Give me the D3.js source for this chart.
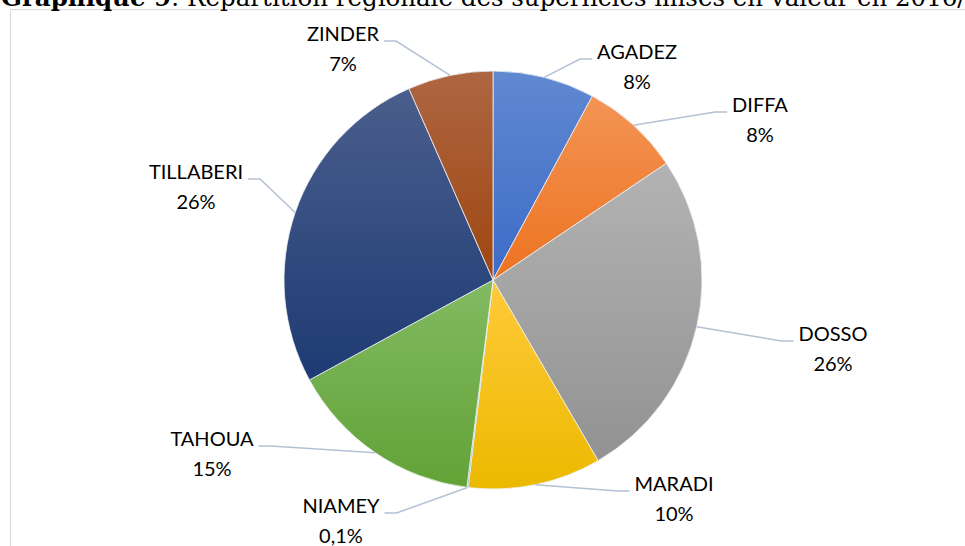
<!DOCTYPE html>
<html>
<head>
<meta charset="utf-8">
<script src="https://cdn.jsdelivr.net/npm/d3@7/dist/d3.min.js"></script>
<style>
  html, body { margin: 0; padding: 0; background: #fff; }
  svg { display: block; }
</style>
</head>
<body>
<svg id="chart" width="965" height="546"></svg>
<script>
// ---- data ----
const regions = ["AGADEZ", "DIFFA", "DOSSO", "MARADI", "NIAMEY", "TAHOUA", "TILLABERI", "ZINDER"];
const shares  = [7.9, 7.7, 26.1, 10.3, 0.1, 15.1, 26.4, 6.6];
const colorsTop    = ["#6089d1", "#f39455", "#b3b3b3", "#ffca3a", "#6aa5da", "#82ba62", "#4b5e8d", "#ae6642"];
const colorsBottom = ["#3d6bc7", "#ed7320", "#929292", "#ecb900", "#4f8fcc", "#62a236", "#1d3b73", "#9f4610"];
const titleBold = "Graphique 9";
const titleRest = ": Répartition régionale des superficies mises en valeur en 2016/";

// ---- layout (label anchors: centre x, first baseline y) ----
const labelLayout = [
  { x: 637, y: 59,  side: "right" },
  { x: 760, y: 112, side: "right" },
  { x: 833, y: 341, side: "right" },
  { x: 674, y: 491, side: "right" },
  { x: 341, y: 513, side: "left" },
  { x: 212, y: 446, side: "left" },
  { x: 196, y: 179, side: "left" },
  { x: 343, y: 41,  side: "left" }
];

const svg = d3.select("#chart");
const cx = 493, cy = 280, R = 209;

// frame
svg.append("rect")
  .attr("x", 10.5).attr("y", 9.5)
  .attr("width", 1000).attr("height", 600)
  .attr("fill", "none").attr("stroke", "#d9dce3").attr("stroke-width", 1.2);

// title (cut off at top, as in the source)
const title = svg.append("text")
  .attr("x", 1).attr("y", 6)
  .attr("font-family", "'DejaVu Serif', 'Liberation Serif', serif")
  .attr("font-size", 24.5)
  .attr("fill", "#000");
title.append("tspan").attr("font-weight", "bold").text(titleBold);
title.append("tspan").text(titleRest);

const total = d3.sum(shares);
const data = regions.map((r, i) => ({ region: r, value: shares[i], i }));

const pie = d3.pie().sort(null).value(d => d.value);
const arcs = pie(data);
const arc = d3.arc().innerRadius(0).outerRadius(R);

const defs = svg.append("defs");
arcs.forEach((a, i) => {
  const g = defs.append("linearGradient")
    .attr("id", "grad" + i)
    .attr("x1", 0).attr("y1", 0).attr("x2", 0).attr("y2", 1);
  g.append("stop").attr("offset", "0%").attr("stop-color", colorsTop[i]);
  g.append("stop").attr("offset", "100%").attr("stop-color", colorsBottom[i]);
});

const gPie = svg.append("g").attr("transform", `translate(${cx},${cy})`);
gPie.selectAll("path.slice")
  .data(arcs)
  .join("path")
  .attr("class", "slice")
  .attr("d", arc)
  .attr("fill", (d, i) => `url(#grad${i})`)
  .attr("stroke", "#eef1f6")
  .attr("stroke-width", 0.8);

const fmtPct = v => {
  const p = v / total * 100;
  return p < 1 ? d3.format(".1f")(p).replace(".", ",") + "%" : Math.round(p) + "%";
};

// labels
const gLab = svg.append("g");
arcs.forEach((a, i) => {
  const L = labelLayout[i];
  const t = gLab.append("text")
    .attr("text-anchor", "middle")
    .attr("font-family", "Lato, 'Open Sans', sans-serif")
    .attr("font-size", 20)
    .attr("fill", "#000");
  t.append("tspan").attr("x", L.x).attr("y", L.y).text(a.data.region);
  t.append("tspan").attr("x", L.x).attr("y", L.y + 29.5).text(fmtPct(a.data.value));

  const w = t.select("tspan").node().getComputedTextLength();
  const mid = (a.startAngle + a.endAngle) / 2;
  const ex = cx + R * Math.sin(mid), ey = cy - R * Math.cos(mid);
  let sx, kx;
  if (L.side === "right") { sx = L.x - w / 2 - 5; kx = sx - 12; }
  else { sx = L.x + w / 2 + 5; kx = sx + 12; }
  gLab.insert("polyline", ":first-child")
    .attr("points", `${sx},${L.y} ${kx},${L.y} ${ex},${ey}`)
    .attr("fill", "none")
    .attr("stroke", "#b4c1d4")
    .attr("stroke-width", 1.5);
});
svg.node().appendChild(gLab.node());
</script>
</body>
</html>
